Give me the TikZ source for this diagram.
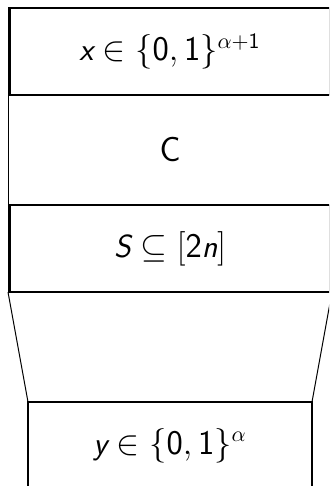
\documentclass[tikz,border=0pt]{standalone}
\usetikzlibrary{positioning}
\tikzset{
  layer-box/.style={draw,rectangle,line width=1.3pt,minimum width=160.5pt,
    minimum height=43.5pt,inner sep=0pt,outer sep=0pt,
    font=\fontsize{16}{19}\selectfont},
  layer-thin/.style={layer-box,line width=0.5pt,minimum width=162pt,minimum height=55pt},
  layer-out/.style={layer-box,minimum width=142pt},
  link-thin/.style={line width=0.5pt},
}
% sans letters inside math, as in the slides
\DeclareMathAlphabet{\mathsfit}{\encodingdefault}{\sfdefault}{m}{sl}

\begin{document}
\begin{tikzpicture}[x=0.5pt,y=-0.5pt]
  \useasboundingbox (0,0) rectangle (329,486);
  \clip (0,0) rectangle (329,486);
  \node[layer-box]                     (xin)  at (170,51.5) {$\mathsfit{x}\in\{\mathsf{0},\mathsf{1}\}^{\alpha+\mathsf{1}}$};
  \node[layer-thin,below=0pt of xin]   (circ) {$\mathsf{C}$};
  \node[layer-box,below=0pt of circ]   (sset) {$\mathsfit{S}\subseteq[\mathsf{2}\mathsfit{n}]$};
  \node[layer-out,below=55pt of sset]  (yout) {$\mathsfit{y}\in\{\mathsf{0},\mathsf{1}\}^{\alpha}$};
  \draw[link-thin] ([xshift=-0.75pt]sset.south west) -- (yout.north west);
  \draw[link-thin] ([xshift=0.75pt]sset.south east) -- (yout.north east);
\end{tikzpicture}
\end{document}
